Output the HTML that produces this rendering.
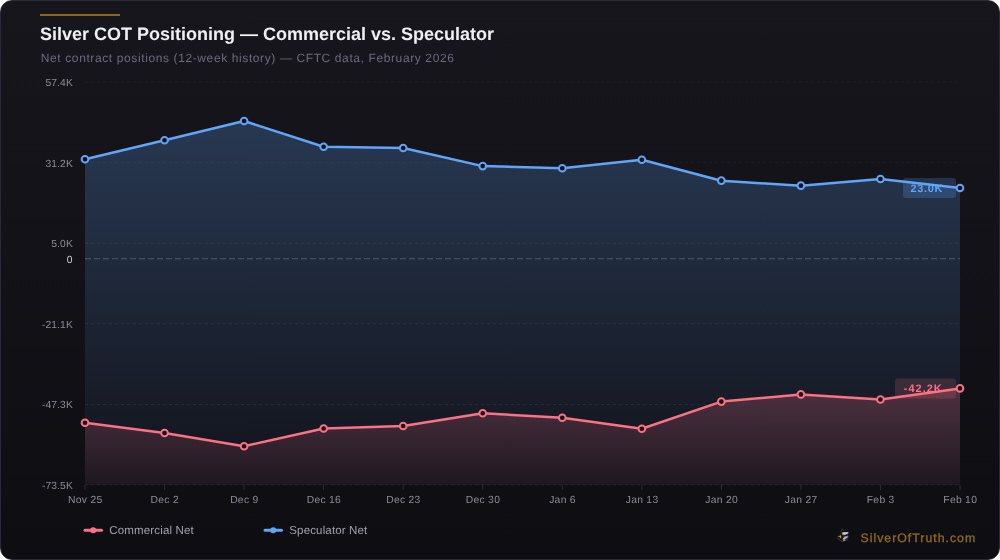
<!DOCTYPE html>
<html lang="en"><head><meta charset="utf-8"><title>Silver COT Positioning</title>
<style>
html,body{margin:0;padding:0;background:#fff;}
body{width:1000px;height:560px;overflow:hidden;font-family:"Liberation Sans",sans-serif;}
.card{position:absolute;left:0;top:0;width:1000px;height:560px;box-sizing:border-box;border:1px solid #2a2a37;border-radius:12px;background:linear-gradient(180deg,#17161c 0%,#0e0d12 100%);overflow:hidden;}
svg{position:absolute;left:0;top:0;}
text{font-family:"Liberation Sans",sans-serif;text-rendering:geometricPrecision;}
.title{font-size:18px;font-weight:700;fill:#f0f0f3;}
.sub{font-size:12px;letter-spacing:0.61px;fill:#6c6a7c;}
.grid{stroke:#9aa4c8;stroke-opacity:0.065;stroke-width:1;stroke-dasharray:3 3;}
.g2{stroke:#7aa8f0;stroke-opacity:0.07;}
.zeroline{stroke:#ffffff;stroke-opacity:0.23;stroke-width:1.1;stroke-dasharray:6 3;}
.tick{stroke:#2e2e3a;stroke-width:1;}
.yl{font-size:10.3px;letter-spacing:0.1px;fill:#8d8b98;text-anchor:end;}
.yl.zero{fill:#d0d0d8;}
.xl{font-size:10.3px;letter-spacing:0.3px;fill:#8d8b98;text-anchor:middle;}
.vl{font-size:10.9px;font-weight:700;}
.lg{font-size:11.5px;letter-spacing:0.15px;fill:#a3a1b0;}
.wm{font-size:12.3px;fill:#8f6d20;stroke:#8f6d20;stroke-width:0.3px;font-weight:400;letter-spacing:1.0px;}
</style></head><body>
<div class="card"></div>
<svg width="1000" height="560" viewBox="0 0 1000 560">
<defs>
<linearGradient id="gb" gradientUnits="userSpaceOnUse" x1="0" y1="121" x2="0" y2="485.0"><stop offset="0" stop-color="#60a5fa" stop-opacity="0.25"/><stop offset="1" stop-color="#60a5fa" stop-opacity="0.03"/></linearGradient>
<linearGradient id="gr" gradientUnits="userSpaceOnUse" x1="0" y1="388" x2="0" y2="485.0"><stop offset="0" stop-color="#fb7185" stop-opacity="0.24"/><stop offset="1" stop-color="#fb7185" stop-opacity="0.05"/></linearGradient>
<clipPath id="cb"><path d="M85.00,485.0 L85.00,159.25 L164.55,140.25 L244.09,121.00 L323.64,146.75 L403.18,148.00 L482.73,166.10 L562.27,168.25 L641.82,159.75 L721.36,180.70 L800.91,185.70 L880.45,179.00 L960.00,188.00 L960.00,485.0 Z"/></clipPath>
</defs>
<rect x="40" y="14" width="80" height="2" fill="#8a671d"/>
<text class="title" x="40" y="39.8">Silver COT Positioning — Commercial vs. Speculator</text>
<text class="sub" x="40.8" y="62">Net contract positions (12-week history) — CFTC data, February 2026</text>
<text class="yl" x="72.9" y="86.00">57.4K</text>
<text class="yl" x="72.9" y="166.60">31.2K</text>
<text class="yl" x="72.9" y="247.20">5.0K</text>
<text class="yl" x="72.9" y="327.80">-21.1K</text>
<text class="yl" x="72.9" y="408.40">-47.3K</text>
<text class="yl" x="72.9" y="489.00">-73.5K</text>
<text class="yl zero" x="72.7" y="263.32">0</text>
<line x1="85.0" x2="960.0" y1="82.00" y2="82.00" class="grid"/>
<line x1="85.0" x2="960.0" y1="162.60" y2="162.60" class="grid"/>
<line x1="85.0" x2="960.0" y1="243.20" y2="243.20" class="grid"/>
<line x1="85.0" x2="960.0" y1="323.80" y2="323.80" class="grid"/>
<line x1="85.0" x2="713" y1="404.40" y2="404.40" class="grid"/>
<line x1="85.0" x2="960.0" y1="485.00" y2="485.00" class="grid"/>
<path d="M85.00,485.0 L85.00,159.25 L164.55,140.25 L244.09,121.00 L323.64,146.75 L403.18,148.00 L482.73,166.10 L562.27,168.25 L641.82,159.75 L721.36,180.70 L800.91,185.70 L880.45,179.00 L960.00,188.00 L960.00,485.0 Z" fill="url(#gb)"/>
<g clip-path="url(#cb)">
<line x1="85.0" x2="960.0" y1="82.00" y2="82.00" class="grid g2"/>
<line x1="85.0" x2="960.0" y1="243.20" y2="243.20" class="grid g2"/>
<line x1="85.0" x2="960.0" y1="323.80" y2="323.80" class="grid g2"/>
<line x1="85.0" x2="713" y1="404.40" y2="404.40" class="grid g2"/>
<line x1="85.0" x2="960.0" y1="485.00" y2="485.00" class="grid g2"/>
</g>
<path d="M85.00,485.0 L85.00,422.75 L164.55,433.00 L244.09,446.25 L323.64,428.50 L403.18,426.00 L482.73,413.25 L562.27,417.75 L641.82,428.75 L721.36,401.60 L800.91,394.40 L880.45,399.50 L960.00,388.40 L960.00,485.0 Z" fill="url(#gr)"/>
<line x1="85.0" x2="960.0" y1="258.72" y2="258.72" class="zeroline"/>
<line x1="85.00" x2="85.00" y1="485.0" y2="490.0" class="tick"/>
<line x1="164.55" x2="164.55" y1="485.0" y2="490.0" class="tick"/>
<line x1="244.09" x2="244.09" y1="485.0" y2="490.0" class="tick"/>
<line x1="323.64" x2="323.64" y1="485.0" y2="490.0" class="tick"/>
<line x1="403.18" x2="403.18" y1="485.0" y2="490.0" class="tick"/>
<line x1="482.73" x2="482.73" y1="485.0" y2="490.0" class="tick"/>
<line x1="562.27" x2="562.27" y1="485.0" y2="490.0" class="tick"/>
<line x1="641.82" x2="641.82" y1="485.0" y2="490.0" class="tick"/>
<line x1="721.36" x2="721.36" y1="485.0" y2="490.0" class="tick"/>
<line x1="800.91" x2="800.91" y1="485.0" y2="490.0" class="tick"/>
<line x1="880.45" x2="880.45" y1="485.0" y2="490.0" class="tick"/>
<line x1="960.00" x2="960.00" y1="485.0" y2="490.0" class="tick"/>
<text class="xl" x="85.25" y="503.4">Nov 25</text>
<text class="xl" x="164.80" y="503.4">Dec 2</text>
<text class="xl" x="244.34" y="503.4">Dec 9</text>
<text class="xl" x="323.89" y="503.4">Dec 16</text>
<text class="xl" x="403.43" y="503.4">Dec 23</text>
<text class="xl" x="482.98" y="503.4">Dec 30</text>
<text class="xl" x="562.52" y="503.4">Jan 6</text>
<text class="xl" x="642.07" y="503.4">Jan 13</text>
<text class="xl" x="721.61" y="503.4">Jan 20</text>
<text class="xl" x="801.16" y="503.4">Jan 27</text>
<text class="xl" x="880.70" y="503.4">Feb 3</text>
<text class="xl" x="960.25" y="503.4">Feb 10</text>
<rect x="903" y="178" width="53" height="20" rx="3" fill="#60a5fa" fill-opacity="0.22"/>
<text class="vl" x="910.6" y="192" letter-spacing="0.69" fill="#60a5fa">23.0K</text>
<rect x="895" y="378.4" width="61" height="20" rx="3" fill="#fb7185" fill-opacity="0.17"/>
<text class="vl" x="903.8" y="392.2" letter-spacing="1.05" fill="#fb7185">-42.2K</text>
<polyline points="85.00,159.25 164.55,140.25 244.09,121.00 323.64,146.75 403.18,148.00 482.73,166.10 562.27,168.25 641.82,159.75 721.36,180.70 800.91,185.70 880.45,179.00 960.00,188.00" fill="none" stroke="#60a5fa" stroke-width="2.5" stroke-linejoin="round" stroke-linecap="round"/>
<polyline points="85.00,422.75 164.55,433.00 244.09,446.25 323.64,428.50 403.18,426.00 482.73,413.25 562.27,417.75 641.82,428.75 721.36,401.60 800.91,394.40 880.45,399.50 960.00,388.40" fill="none" stroke="#fb7185" stroke-width="2.5" stroke-linejoin="round" stroke-linecap="round"/>
<circle cx="85.00" cy="159.25" r="3.35" fill="#111016" stroke="#60a5fa" stroke-width="2"/>
<circle cx="164.55" cy="140.25" r="3.35" fill="#111016" stroke="#60a5fa" stroke-width="2"/>
<circle cx="244.09" cy="121.00" r="3.35" fill="#111016" stroke="#60a5fa" stroke-width="2"/>
<circle cx="323.64" cy="146.75" r="3.35" fill="#111016" stroke="#60a5fa" stroke-width="2"/>
<circle cx="403.18" cy="148.00" r="3.35" fill="#111016" stroke="#60a5fa" stroke-width="2"/>
<circle cx="482.73" cy="166.10" r="3.35" fill="#111016" stroke="#60a5fa" stroke-width="2"/>
<circle cx="562.27" cy="168.25" r="3.35" fill="#111016" stroke="#60a5fa" stroke-width="2"/>
<circle cx="641.82" cy="159.75" r="3.35" fill="#111016" stroke="#60a5fa" stroke-width="2"/>
<circle cx="721.36" cy="180.70" r="3.35" fill="#111016" stroke="#60a5fa" stroke-width="2"/>
<circle cx="800.91" cy="185.70" r="3.35" fill="#111016" stroke="#60a5fa" stroke-width="2"/>
<circle cx="880.45" cy="179.00" r="3.35" fill="#111016" stroke="#60a5fa" stroke-width="2"/>
<circle cx="960.00" cy="188.00" r="3.35" fill="#111016" stroke="#60a5fa" stroke-width="2"/>
<circle cx="85.00" cy="422.75" r="3.35" fill="#111016" stroke="#fb7185" stroke-width="2"/>
<circle cx="164.55" cy="433.00" r="3.35" fill="#111016" stroke="#fb7185" stroke-width="2"/>
<circle cx="244.09" cy="446.25" r="3.35" fill="#111016" stroke="#fb7185" stroke-width="2"/>
<circle cx="323.64" cy="428.50" r="3.35" fill="#111016" stroke="#fb7185" stroke-width="2"/>
<circle cx="403.18" cy="426.00" r="3.35" fill="#111016" stroke="#fb7185" stroke-width="2"/>
<circle cx="482.73" cy="413.25" r="3.35" fill="#111016" stroke="#fb7185" stroke-width="2"/>
<circle cx="562.27" cy="417.75" r="3.35" fill="#111016" stroke="#fb7185" stroke-width="2"/>
<circle cx="641.82" cy="428.75" r="3.35" fill="#111016" stroke="#fb7185" stroke-width="2"/>
<circle cx="721.36" cy="401.60" r="3.35" fill="#111016" stroke="#fb7185" stroke-width="2"/>
<circle cx="800.91" cy="394.40" r="3.35" fill="#111016" stroke="#fb7185" stroke-width="2"/>
<circle cx="880.45" cy="399.50" r="3.35" fill="#111016" stroke="#fb7185" stroke-width="2"/>
<circle cx="960.00" cy="388.40" r="3.35" fill="#111016" stroke="#fb7185" stroke-width="2"/>
<line x1="85" x2="101.5" y1="530.2" y2="530.2" stroke="#fb7185" stroke-width="3" stroke-linecap="round"/><circle cx="93.2" cy="530.2" r="3" fill="#fb7185"/>
<text class="lg" x="109.3" y="534">Commercial Net</text>
<line x1="265" x2="281.5" y1="530.2" y2="530.2" stroke="#60a5fa" stroke-width="3" stroke-linecap="round"/><circle cx="273.2" cy="530.2" r="3" fill="#60a5fa"/>
<text class="lg" x="289.3" y="534">Speculator Net</text>
<g transform="translate(830,522)"><path d="M12.3,6.6 L10.9,9.4 L12.1,12.6 M12.6,7 L14.2,9.6 M7.6,14.6 L10.6,12.2" stroke="#5b3d52" stroke-width="0.9" fill="none" opacity="0.7"/><path d="M7.2,16.2 L11.4,19.0 L12.4,19.9 L17.4,17.4 L18.4,14.4 L17.3,13.2 L18.7,10.2" stroke="#4a3444" stroke-width="1.1" fill="none" opacity="0.75"/><path d="M12.4,10.3 L18.5,10.0 L17.6,11.7 L15.0,12.9 L12.2,12.7 Z" fill="#c6c6ce"/><path d="M12.2,12.7 L15.0,12.9 L14.6,14.6 L12.4,15.2 Z" fill="#2a2530"/><path d="M14.6,14.5 L18.1,14.1 L17.2,15.9 L14.2,17.6 L12.3,17.2 Z" fill="#b2b2bc"/><path d="M12.8,17.3 L15.4,17.3 L15.3,18.9 L13.0,18.8 Z" fill="#9a9aa6"/><rect x="9.95" y="13.2" width="1.3" height="3.0" rx="0.5" fill="#b88f1c"/><rect x="8.5" y="14.2" width="1.4" height="0.9" fill="#b4b4c0"/></g>
<text class="wm" x="860.5" y="541.8">SilverOfTruth.com</text>
</svg>
</body></html>
